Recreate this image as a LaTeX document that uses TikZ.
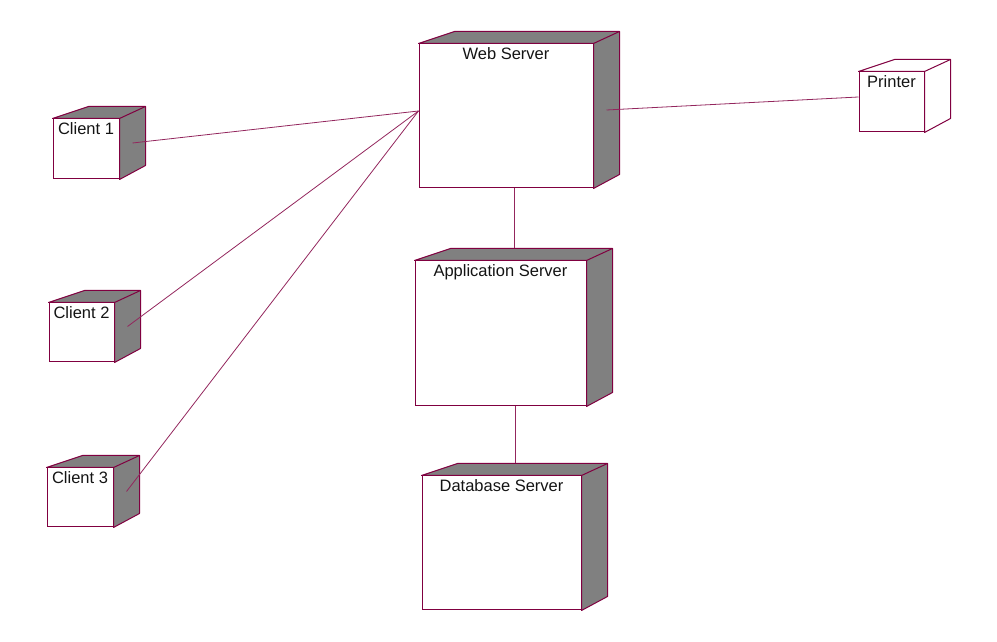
\documentclass[tikz,border=0pt]{standalone}
\usepackage{fontspec}
\setmainfont{Liberation Sans}
\usepackage{tikz}
\usetikzlibrary{calc}
\definecolor{roseline}{HTML}{800040}
\definecolor{sidegray}{HTML}{808080}
\definecolor{labelink}{HTML}{141414}

\begin{document}
\begin{tikzpicture}[x=1pt, y=1pt,
  dev/.style 2 args={draw=roseline, line width=1pt, fill=white, inner sep=0pt,
              minimum width=#1, minimum height=#2},
  devlbl/.style={anchor=north, inner sep=4pt, text=labelink,
              font=\fontsize{16.5}{19}\selectfont},
  face/.style={draw=roseline, line width=1pt, line join=round},
  conn/.style={draw=roseline!85, line width=0.8pt}]
\useasboundingbox (0,0) rectangle (997,642);
% nodes (front faces)
\node[dev={174}{144}, label={[devlbl, name=web-lbl]north:Web Server}] (web) at (506,526) {};
\node[dev={171}{145}, label={[devlbl, name=app-lbl]north:Application Server}] (app) at (500.5,308.5) {};
\node[dev={159}{134}, label={[devlbl, name=db-lbl]north:Database Server}] (db) at (501.5,99) {};
\node[dev={66}{60}, label={[devlbl, name=cl1-lbl]north:Client 1}] (cl1) at (86,493) {};
\node[dev={65}{59}, label={[devlbl, name=cl2-lbl]north:Client 2}] (cl2) at (81.5,309.5) {};
\node[dev={66}{59}, label={[devlbl, name=cl3-lbl]north:Client 3}] (cl3) at (80,144.5) {};
\node[dev={65}{60}, label={[devlbl, name=prn-lbl]north:Printer}] (prn) at (891.5,540) {};
% top and side faces
\foreach \n/\f in {web/sidegray, app/sidegray, db/sidegray, cl1/sidegray,
                   cl2/sidegray, cl3/sidegray, prn/white} {
  \filldraw[face, fill=\f] (\n.north west) -- ++(36,12)
    -- ([shift={(26,12)}]\n.north east) -- ([shift={(26,14)}]\n.south east)
    -- (\n.south east) -- (\n.north east) -- cycle;
  \draw[face] (\n.north east) -- ++(26,12);
  \coordinate (\n-top) at ([shift={(14,12)}]\n.north);
  \coordinate (\n-side) at ([shift={(13,6)}]\n.east);
}
\coordinate (web-in) at ([yshift=5]web.west);
\coordinate (prn-in) at ([yshift=5]prn.west);
% connections
\draw[conn] (cl1-side) -- (web-in);
\draw[conn] (cl2-side) -- (web-in);
\draw[conn] (cl3-side) -- (web-in);
\draw[conn] (web-side) -- (prn-in);
\draw[conn] (app-top) -- (app-top |- web.south);
\draw[conn] (db-top) -- (db-top |- app.south);
\end{tikzpicture}
\end{document}
